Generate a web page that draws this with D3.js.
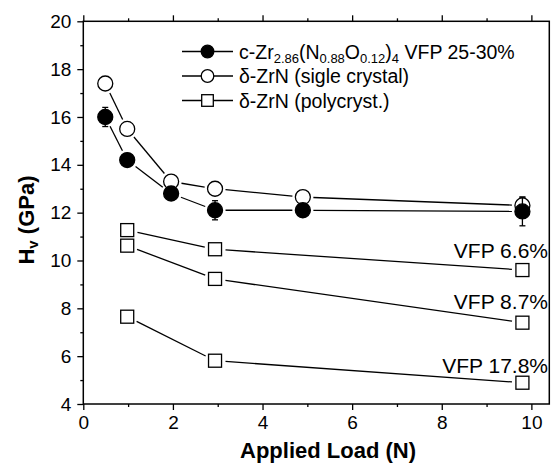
<!DOCTYPE html>
<html lang="en">
<head>
    <meta charset="UTF-8">
    <title>Hv vs applied load</title>
    <style>
        body { margin: 0; background: #fff; }
        svg { display: block; font-family: "Liberation Sans", Arial, sans-serif; }
    </style>
</head>
<body>
    <div id="chart"></div>
    <script src="https://d3js.org/d3.v7.min.js"></script>
    <script>
        // values (load in N, hardness in GPa)
        const loadSingle = [0.49, 0.98, 1.96, 2.94, 4.9, 9.8]
        const hvFilm = [16.0, 14.2, 12.8, 12.1, 12.1, 12.05]
        const errFilm = [0.4, 0, 0, 0.4, 0, 0.6]
        const hvCrystal = [17.4, 15.5, 13.3, 13.0, 12.65, 12.3]
        const errCrystal = [0, 0, 0, 0, 0, 0.35]
        const loadPoly = [0.98, 2.94, 9.8]
        const hvPoly66 = [11.27, 10.47, 9.6]
        const hvPoly87 = [10.62, 9.23, 7.4]
        const hvPoly178 = [7.65, 5.81, 4.89]
        const polyLabels = ['VFP 6.6%', 'VFP 8.7%', 'VFP 17.8%']
        const xTicks = [0, 2, 4, 6, 8, 10]
        const yTicks = [4, 6, 8, 10, 12, 14, 16, 18, 20]

        const W = 554, H = 466
        const pLeft = 83.3, pRight = 549.3, pTop = 21.3, pBottom = 404

        const x = d3.scaleLinear().domain([0, 10.4]).range([pLeft, pRight])
        const y = d3.scaleLinear().domain([4, 20]).range([pBottom, pTop])

        const svg = d3.select('#chart').append('svg')
            .attr('width', W).attr('height', H)

        // frame
        svg.append('rect')
            .attr('x', pLeft).attr('y', pTop)
            .attr('width', pRight - pLeft).attr('height', pBottom - pTop)
            .attr('fill', 'none').attr('stroke', '#000').attr('stroke-width', 1.5)

        const minorX = d3.range(0, 11, 1).filter(v => v % 2)
        const minorY = d3.range(5, 20, 2)

        function axisStyle(g) {
            g.select('.domain').remove()
            g.selectAll('line').attr('stroke', '#000').attr('stroke-width', 1.3)
            g.selectAll('text').attr('fill', '#000').style('font-size', '19px')
        }

        // bottom
        svg.append('g').attr('transform', `translate(0,${pBottom})`)
            .call(d3.axisBottom(x).tickValues(xTicks).tickFormat(d3.format('d')).tickSize(6).tickPadding(6))
            .call(axisStyle)
        svg.append('g').attr('transform', `translate(0,${pBottom})`)
            .call(d3.axisBottom(x).tickValues(minorX).tickFormat('').tickSize(3))
            .call(axisStyle)
        // top (ticks only)
        svg.append('g').attr('transform', `translate(0,${pTop})`)
            .call(d3.axisTop(x).tickValues(xTicks).tickFormat('').tickSize(6))
            .call(axisStyle)
        svg.append('g').attr('transform', `translate(0,${pTop})`)
            .call(d3.axisTop(x).tickValues(minorX).tickFormat('').tickSize(3))
            .call(axisStyle)
        // left
        svg.append('g').attr('transform', `translate(${pLeft},0)`)
            .call(d3.axisLeft(y).tickValues(yTicks).tickFormat(d3.format('d')).tickSize(6).tickPadding(6))
            .call(axisStyle)
        svg.append('g').attr('transform', `translate(${pLeft},0)`)
            .call(d3.axisLeft(y).tickValues(minorY).tickFormat('').tickSize(3))
            .call(axisStyle)

        // axis titles
        svg.append('text')
            .attr('x', 328).attr('y', 458)
            .attr('text-anchor', 'middle')
            .style('font-size', '22px').style('font-weight', 'bold')
            .text('Applied Load (N)')

        const yt = svg.append('text')
            .attr('transform', 'translate(34,220) rotate(-90)')
            .attr('text-anchor', 'middle')
            .style('font-size', '22px').style('font-weight', 'bold')
        yt.append('tspan').text('H')
        yt.append('tspan').attr('baseline-shift', '-25%').style('font-size', '15px').text('v')
        yt.append('tspan').text(' (GPa)')

        // connecting lines that stop short of the markers
        function gappedLine(xs, ys, gap) {
            const g = svg.append('g')
            for (let i = 0; i < xs.length - 1; i++) {
                const x1 = x(xs[i]), y1 = y(ys[i]), x2 = x(xs[i + 1]), y2 = y(ys[i + 1])
                const len = Math.hypot(x2 - x1, y2 - y1)
                if (len <= 2 * gap) continue
                const ux = (x2 - x1) / len, uy = (y2 - y1) / len
                g.append('line')
                    .attr('x1', x1 + ux * gap).attr('y1', y1 + uy * gap)
                    .attr('x2', x2 - ux * gap).attr('y2', y2 - uy * gap)
                    .attr('stroke', '#000').attr('stroke-width', 1.3)
            }
        }

        function errorBars(xs, ys, es) {
            const g = svg.append('g')
            xs.forEach((v, i) => {
                if (!es[i]) return
                const cx = x(v)
                g.append('line').attr('x1', cx).attr('x2', cx)
                    .attr('y1', y(ys[i] - es[i])).attr('y2', y(ys[i] + es[i]))
                    .attr('stroke', '#000').attr('stroke-width', 1.3)
                ;[ys[i] - es[i], ys[i] + es[i]].forEach(e => {
                    g.append('line').attr('x1', cx - 3).attr('x2', cx + 3)
                        .attr('y1', y(e)).attr('y2', y(e))
                        .attr('stroke', '#000').attr('stroke-width', 1.3)
                })
            })
        }

        const R = 7.5, S = 13

        gappedLine(loadSingle, hvCrystal, R + 3)
        gappedLine(loadSingle, hvFilm, R + 3)
        const polySeries = [hvPoly66, hvPoly87, hvPoly178]
        polySeries.forEach(s => gappedLine(loadPoly, s, S / 2 + 4))

        errorBars(loadSingle, hvCrystal, errCrystal)
        svg.append('g').selectAll('circle')
            .data(loadSingle.map((v, i) => [v, hvCrystal[i]]))
            .join('circle')
            .attr('cx', d => x(d[0])).attr('cy', d => y(d[1])).attr('r', R)
            .attr('fill', '#fff').attr('stroke', '#000').attr('stroke-width', 1.3)

        errorBars(loadSingle, hvFilm, errFilm)
        svg.append('g').selectAll('circle')
            .data(loadSingle.map((v, i) => [v, hvFilm[i]]))
            .join('circle')
            .attr('cx', d => x(d[0])).attr('cy', d => y(d[1])).attr('r', R)
            .attr('fill', '#000').attr('stroke', '#000').attr('stroke-width', 1.3)

        polySeries.forEach(s => {
            svg.append('g').selectAll('rect')
                .data(loadPoly.map((v, i) => [v, s[i]]))
                .join('rect')
                .attr('x', d => x(d[0]) - S / 2).attr('y', d => y(d[1]) - S / 2)
                .attr('width', S).attr('height', S)
                .attr('fill', '#fff').attr('stroke', '#000').attr('stroke-width', 1.3)
        })

        // VFP labels above the last squares
        const labelBase = [258, 309, 372.5]
        polyLabels.forEach((t, i) => {
            svg.append('text')
                .attr('x', 548).attr('y', labelBase[i])
                .attr('text-anchor', 'end')
                .style('font-size', '21px')
                .text(t)
        })

        // legend
        const legRows = [51.5, 76, 100.5]
        const lg = svg.append('g')
        legRows.forEach((ry, i) => {
            lg.append('line').attr('x1', 182).attr('x2', 233).attr('y1', ry).attr('y2', ry)
                .attr('stroke', '#000').attr('stroke-width', 1.3)
            if (i < 2) {
                lg.append('circle').attr('cx', 207.5).attr('cy', ry).attr('r', 6.3)
                    .attr('fill', i === 0 ? '#000' : '#fff').attr('stroke', '#000').attr('stroke-width', 1.3)
            } else {
                lg.append('rect').attr('x', 207.5 - 5.8).attr('y', ry - 5.8).attr('width', 11.6).attr('height', 11.6)
                    .attr('fill', '#fff').attr('stroke', '#000').attr('stroke-width', 1.3)
            }
        })
        const t0 = lg.append('text').attr('x', 239).attr('y', legRows[0] + 7).style('font-size', '19.5px')
        const sub = (txt) => t0.append('tspan').attr('baseline-shift', '-30%').style('font-size', '13px').text(txt)
        const main = (txt) => t0.append('tspan').text(txt)
        main('c-Zr'); sub('2.86'); main('(N'); sub('0.88'); main('O'); sub('0.12'); main(')'); sub('4'); main(' VFP 25-30%')

        lg.append('text').attr('x', 239).attr('y', legRows[1] + 7).style('font-size', '19.5px')
            .text('\u03b4-ZrN (sigle crystal)')
        lg.append('text').attr('x', 239).attr('y', legRows[2] + 7).style('font-size', '19.5px')
            .text('\u03b4-ZrN (polycryst.)')
    </script>
</body>
</html>
